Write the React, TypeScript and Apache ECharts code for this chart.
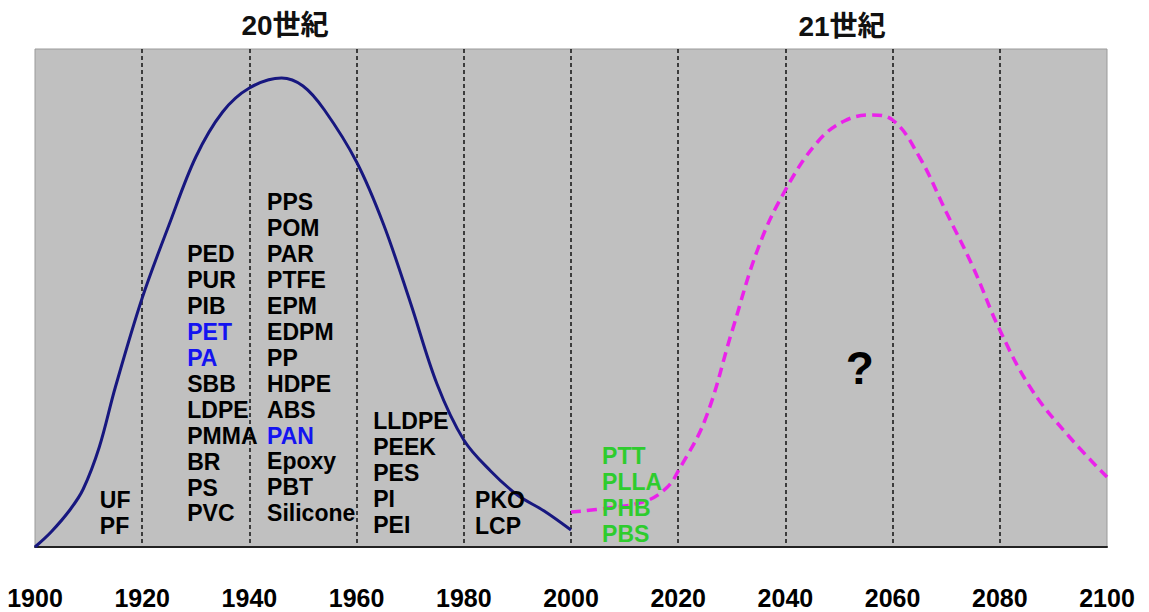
import React, { useEffect, useRef } from "react";
import * as echarts from "echarts";

// x tick labels (years)
const yearTicks = [1900, 1920, 1940, 1960, 1980, 2000, 2020, 2040, 2060, 2080, 2100];

// 20th century curve [year, relative level]
const curve20: [number, number][] = [
  [1900, 0], [1903, 15], [1906.5, 37], [1909, 58], [1912, 100], [1915, 160], [1920, 249],
  [1925, 322], [1930, 390], [1935, 435], [1940, 459], [1946, 469], [1950, 461],
  [1954, 437], [1960, 385], [1965, 323], [1970, 245], [1975, 163], [1980, 107],
  [1985, 76], [1990, 52], [1995, 36], [2000, 17],
];

// 21st century (speculative) curve
const curve21: [number, number][] = [
  [2000, 35], [2007, 39], [2014, 46], [2018, 60], [2020, 76], [2025, 127],
  [2030, 215], [2035, 300], [2040, 357], [2046, 405], [2051, 426], [2056, 432],
  [2060, 427], [2065, 390], [2070, 335], [2075, 280], [2080, 217], [2086, 157],
  [2093, 110], [2100, 70],
];

// polymer name columns; "b:" = blue, "g:" = green
const col1910s = ["UF", "PF"];
const col1920s = ["PED", "PUR", "PIB", "b:PET", "b:PA", "SBB", "LDPE", "PMMA", "BR", "PS", "PVC"];
const col1940s = ["PPS", "POM", "PAR", "PTFE", "EPM", "EDPM", "PP", "HDPE", "ABS", "b:PAN", "Epoxy", "PBT", "Silicone"];
const col1960s = ["LLDPE", "PEEK", "PES", "PI", "PEI"];
const col1980s = ["PKO", "LCP"];
const col2000s = ["g:PTT", "g:PLLA", "g:PHB", "g:PBS"];

// anchor (year, level) of each column's top-left
const columns: { at: [number, number]; names: string[] }[] = [
  { at: [1912.1, 60], names: col1910s },
  { at: [1928.4, 305.5], names: col1920s },
  { at: [1943.3, 357.5], names: col1940s },
  { at: [1963.1, 139], names: col1960s },
  { at: [1982.1, 59.5], names: col1980s },
  { at: [2005.8, 104], names: col2000s },
];

const centuryTitles = ["20世紀", "21世紀"];

function fmt(names: string[]) {
  return names
    .map((n) => {
      if (n.startsWith("b:")) return `{b|${n.slice(2)}}`;
      if (n.startsWith("g:")) return `{g|${n.slice(2)}}`;
      return `{k|${n}}`;
    })
    .join("\n");
}

export default function App() {
  const ref = useRef<HTMLDivElement>(null);
  useEffect(() => {
    if (!ref.current) return;
    const chart = echarts.init(ref.current, undefined, { renderer: "svg" });
    const txtFont = "'Liberation Sans', Arial, sans-serif";
    const base = { fontFamily: txtFont, fontWeight: "bold" as const, fontSize: 23, lineHeight: 25.9 };
    chart.setOption({
      animation: false,
      backgroundColor: "#ffffff",
      grid: {
        left: 35,
        right: 42,
        top: 49,
        bottom: 65,
        show: true,
        backgroundColor: "#c0c0c0",
        borderColor: "#9a9a9a",
        borderWidth: 1,
      },
      xAxis: {
        type: "value",
        min: 1900,
        max: 2100,
        interval: 20,
        axisLine: { show: true, onZero: false, lineStyle: { color: "#222", width: 2 } },
        axisTick: { show: false },
        axisLabel: {
          margin: 38,
          fontFamily: "'Liberation Sans', Arial, sans-serif",
          fontWeight: "bold",
          fontSize: 25,
          color: "#000",
          formatter: (v: number) => (yearTicks.includes(v) ? String(v) : ""),
          showMinLabel: true,
          showMaxLabel: true,
        },
        splitLine: {
          show: true,
          showMinLine: false,
          showMaxLine: false,
          lineStyle: { color: "#111", width: 1.5, type: [4, 3] },
        },
      },
      yAxis: {
        type: "value",
        min: 0,
        max: 498,
        show: false,
        splitLine: { show: false },
      },
      graphic: [
        {
          type: "text",
          x: 285,
          y: 25,
          style: {
            text: centuryTitles[0],
            font: "bold 28px 'Liberation Sans', 'Noto Sans CJK JP', sans-serif",
            fill: "#111",
            align: "center",
            verticalAlign: "middle",
          },
        },
        {
          type: "text",
          x: 842,
          y: 26,
          style: {
            text: centuryTitles[1],
            font: "bold 28px 'Liberation Sans', 'Noto Sans CJK JP', sans-serif",
            fill: "#111",
            align: "center",
            verticalAlign: "middle",
          },
        },
      ],
      series: [
        {
          type: "line",
          data: curve20,
          smooth: 0.35,
          showSymbol: false,
          lineStyle: { color: "#17177f", width: 3 },
          z: 3,
        },
        {
          type: "line",
          data: curve21,
          smooth: 0.4,
          showSymbol: false,
          lineStyle: { color: "#ea22ea", width: 3.5, type: [10, 6] },
          z: 3,
        },
        {
          type: "scatter",
          symbolSize: 1,
          itemStyle: { color: "rgba(0,0,0,0)", opacity: 1 },
          z: 4,
          silent: true,
          data: columns.map((c) => ({
            value: c.at,
            label: {
              show: true,
              position: "inside",
              align: "left",
              verticalAlign: "top",
              formatter: fmt(c.names),
              rich: {
                k: { ...base, color: "#000" },
                b: { ...base, color: "#1414f0" },
                g: { ...base, color: "#2ecc2e" },
              },
            },
          })),
        },
        {
          type: "scatter",
          symbolSize: 1,
          itemStyle: { color: "rgba(0,0,0,0)", opacity: 1 },
          z: 4,
          silent: true,
          data: [
            {
              value: [2053.9, 179],
              label: {
                show: true,
                position: "inside",
                formatter: "?",
                fontFamily: "'Liberation Sans', Arial, sans-serif",
                fontWeight: "bold",
                fontSize: 46,
                color: "#000",
              },
            },
          ],
        },
      ],
    });
    return () => chart.dispose();
  }, []);
  return (
    <div
      ref={ref}
      style={{ position: "fixed", left: 0, top: 0, width: 1149, height: 612 }}
    />
  );
}
